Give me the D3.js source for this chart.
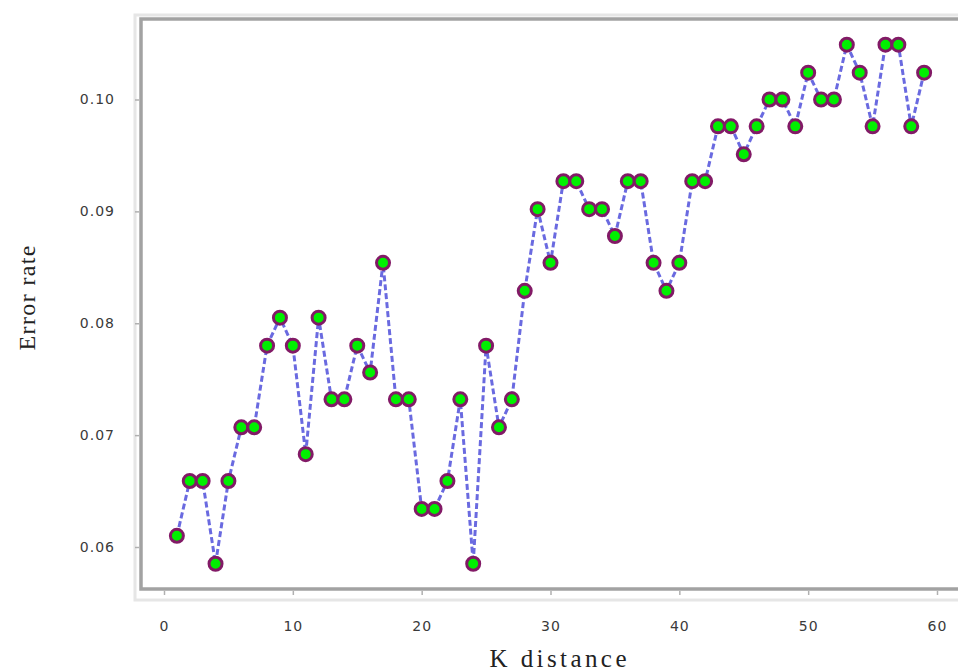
<!DOCTYPE html>
<html>
<head>
<meta charset="utf-8">
<script src="https://cdn.jsdelivr.net/npm/d3@7"></script>
<style>
  body { margin: 0; background: #fff; overflow: hidden; }
  svg { display: block; }
</style>
</head>
<body>
<div id="chart"></div>
<script>
// K values and the error rate
const kValues = [1, 2, 3, 4, 5, 6, 7, 8, 9, 10,
  11, 12, 13, 14, 15, 16, 17, 18, 19, 20,
  21, 22, 23, 24, 25, 26, 27, 28, 29, 30,
  31, 32, 33, 34, 35, 36, 37, 38, 39, 40,
  41, 42, 43, 44, 45, 46, 47, 48, 49, 50,
  51, 52, 53, 54, 55, 56, 57, 58, 59];
const errorRate = [0.0610, 0.0659, 0.0659, 0.0585, 0.0659, 0.0707, 0.0707, 0.0780, 0.0805, 0.0780,
  0.0683, 0.0805, 0.0732, 0.0732, 0.0780, 0.0756, 0.0854, 0.0732, 0.0732, 0.0634,
  0.0634, 0.0659, 0.0732, 0.0585, 0.0780, 0.0707, 0.0732, 0.0829, 0.0902, 0.0854,
  0.0927, 0.0927, 0.0902, 0.0902, 0.0878, 0.0927, 0.0927, 0.0854, 0.0829, 0.0854,
  0.0927, 0.0927, 0.0976, 0.0976, 0.0951, 0.0976, 0.1000, 0.1000, 0.0976, 0.1024,
  0.1000, 0.1000, 0.1049, 0.1024, 0.0976, 0.1049, 0.1049, 0.0976, 0.1024];
const xTicks = [0, 10, 20, 30, 40, 50, 60];
const yTicks = [0.06, 0.07, 0.08, 0.09, 0.10];

const width = 958, height = 671;
// panel runs off the right edge of the picture
const frame = {left: 141, top: 19, right: 1010, bottom: 589};

const points = kValues.map((k, i) => ({k: k, v: errorRate[i]}));

const svg = d3.select("#chart").append("svg")
  .attr("width", width)
  .attr("height", height);

const x = d3.scaleLinear().domain([0, 60]).range([164, 937]);
const y = d3.scaleLinear().domain([0.06, 0.10]).range([547, 99.5]);

// sunken panel look: light outer border, darker inner one
svg.append("rect")
  .attr("x", 135).attr("y", 15)
  .attr("width", 950).attr("height", 585)
  .attr("fill", "none")
  .attr("stroke", "#e6e6e6")
  .attr("stroke-width", 3);

svg.append("rect")
  .attr("x", frame.left).attr("y", frame.top)
  .attr("width", frame.right - frame.left).attr("height", frame.bottom - frame.top)
  .attr("fill", "#fff")
  .attr("stroke", "#a2a2a2")
  .attr("stroke-width", 3.5);

// axes
const xAxis = svg.append("g")
  .attr("transform", `translate(0,${frame.bottom + 2})`)
  .call(d3.axisBottom(x).tickValues(xTicks).tickSize(4).tickPadding(26).tickFormat(d3.format("d")));

const yAxis = svg.append("g")
  .attr("transform", `translate(${frame.left - 2},0)`)
  .call(d3.axisLeft(y).tickValues(yTicks).tickSize(4).tickPadding(20).tickFormat(d3.format(".2f")));

[xAxis, yAxis].forEach(g => {
  g.select(".domain").remove();
  g.selectAll(".tick line").attr("stroke", "#b0b0b0").attr("stroke-width", 1.5);
  g.selectAll(".tick text")
    .attr("fill", "#3a3a3a")
    .style("font-family", "'DejaVu Sans', sans-serif")
    .style("font-size", "14px")
    .style("letter-spacing", "1px");
});

// dashed line
const line = d3.line()
  .x(d => x(d.k))
  .y(d => y(d.v));

svg.append("path")
  .datum(points)
  .attr("d", line)
  .attr("fill", "none")
  .attr("stroke", "#6a6ae0")
  .attr("stroke-width", 3)
  .attr("stroke-dasharray", "6,3");

// markers
svg.append("g")
  .selectAll("circle")
  .data(points)
  .join("circle")
  .attr("cx", d => x(d.k))
  .attr("cy", d => y(d.v))
  .attr("r", 6.5)
  .attr("fill", "#00f000")
  .attr("stroke", "#821a66")
  .attr("stroke-width", 3);

// axis titles
svg.append("text")
  .attr("x", 558)
  .attr("y", 667)
  .attr("text-anchor", "middle")
  .attr("textLength", 137)
  .attr("lengthAdjust", "spacing")
  .style("font-family", "'Liberation Serif', 'Times New Roman', serif")
  .style("font-size", "25px")
  .attr("fill", "#222")
  .text("K distance");

svg.append("text")
  .attr("transform", "translate(35,298) rotate(-90)")
  .attr("text-anchor", "middle")
  .attr("textLength", 105)
  .attr("lengthAdjust", "spacing")
  .style("font-family", "'Liberation Serif', 'Times New Roman', serif")
  .style("font-size", "24px")
  .attr("fill", "#222")
  .text("Error rate");
</script>
</body>
</html>
